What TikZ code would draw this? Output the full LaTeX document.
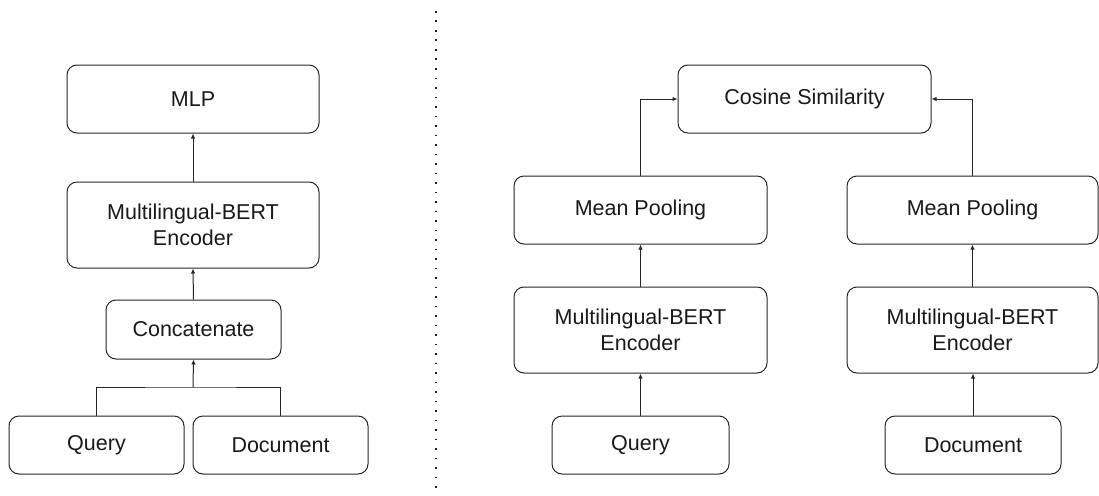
\documentclass[tikz,border=0pt]{standalone}
\usepackage{fontspec}
\setmainfont{Liberation Sans}
\usetikzlibrary{arrows.meta}
\begin{document}
\begin{tikzpicture}[x=1pt,y=-1pt,
  box/.style={draw=black!85, line width=1pt, rounded corners=10pt, align=center,
    font=\fontsize{21.5}{25.7}\selectfont, inner sep=0pt, text=black!90},
  wide/.style={box, minimum width=252pt, minimum height=68pt},
  tall/.style={box, minimum width=252pt, minimum height=86pt},
  small/.style={box, minimum width=176pt, minimum height=58pt},
  link/.style={draw=black!85, line width=1pt, -{Latex[length=5pt,width=4.5pt]}},
  wire/.style={draw=black!85, line width=1pt}]
\useasboundingbox (0,0) rectangle (1099,495);

% left: cross-encoder
\node[wide] (mlp) at (193,99) {MLP};
\node[tall] (lbert) at (193,225) {Multilingual-BERT\\Encoder};
\node[small, minimum width=175pt, minimum height=59pt] (concat) at (193.5,329.5) {Concatenate};
\node[small, minimum width=175pt] (lquery) at (96.5,445) {Query};
\node[small, minimum width=175pt] (ldoc) at (280.5,445) {Document};
\coordinate (join) at (193,387);

\draw[wire] (lquery.north) |- (join) -| (ldoc.north);
\draw[link] (join) -- (concat.south);
\draw[link] (concat.north) -- (lbert.south);
\draw[link] (lbert.north) -- (mlp.south);

% divider
\coordinate (dtop) at (436,11);
\coordinate (dbot) at (436,490);
\draw[black!90, line width=1.6pt, dash pattern=on 1.6pt off 7.9pt] (dtop) -- (dbot);

% right: bi-encoder
\node[wide, minimum width=253pt] (cos) at (804.5,99) {Cosine Similarity};
\node[wide, minimum width=253pt] (mp1) at (640.5,210) {Mean Pooling};
\node[wide, minimum width=251pt] (mp2) at (972.5,210) {Mean Pooling};
\node[tall, minimum width=253pt] (rb1) at (640.5,330) {Multilingual-BERT\\Encoder};
\node[tall, minimum width=251pt] (rb2) at (972.5,330) {Multilingual-BERT\\Encoder};
\node[small, minimum width=177pt] (rq) at (640.5,445) {Query};
\node[small] (rd) at (973,445) {Document};

\draw[link] (rq.north) -- (rb1.south);
\draw[link] (rd.north) -- (rd.north |- rb2.south);
\draw[link] (rb1.north) -- (mp1.south);
\draw[link] (rb2.north) -- (mp2.south);
\draw[link] (mp1.north) |- (cos.west);
\draw[link] (mp2.north) |- (cos.east);
\end{tikzpicture}
\end{document}
